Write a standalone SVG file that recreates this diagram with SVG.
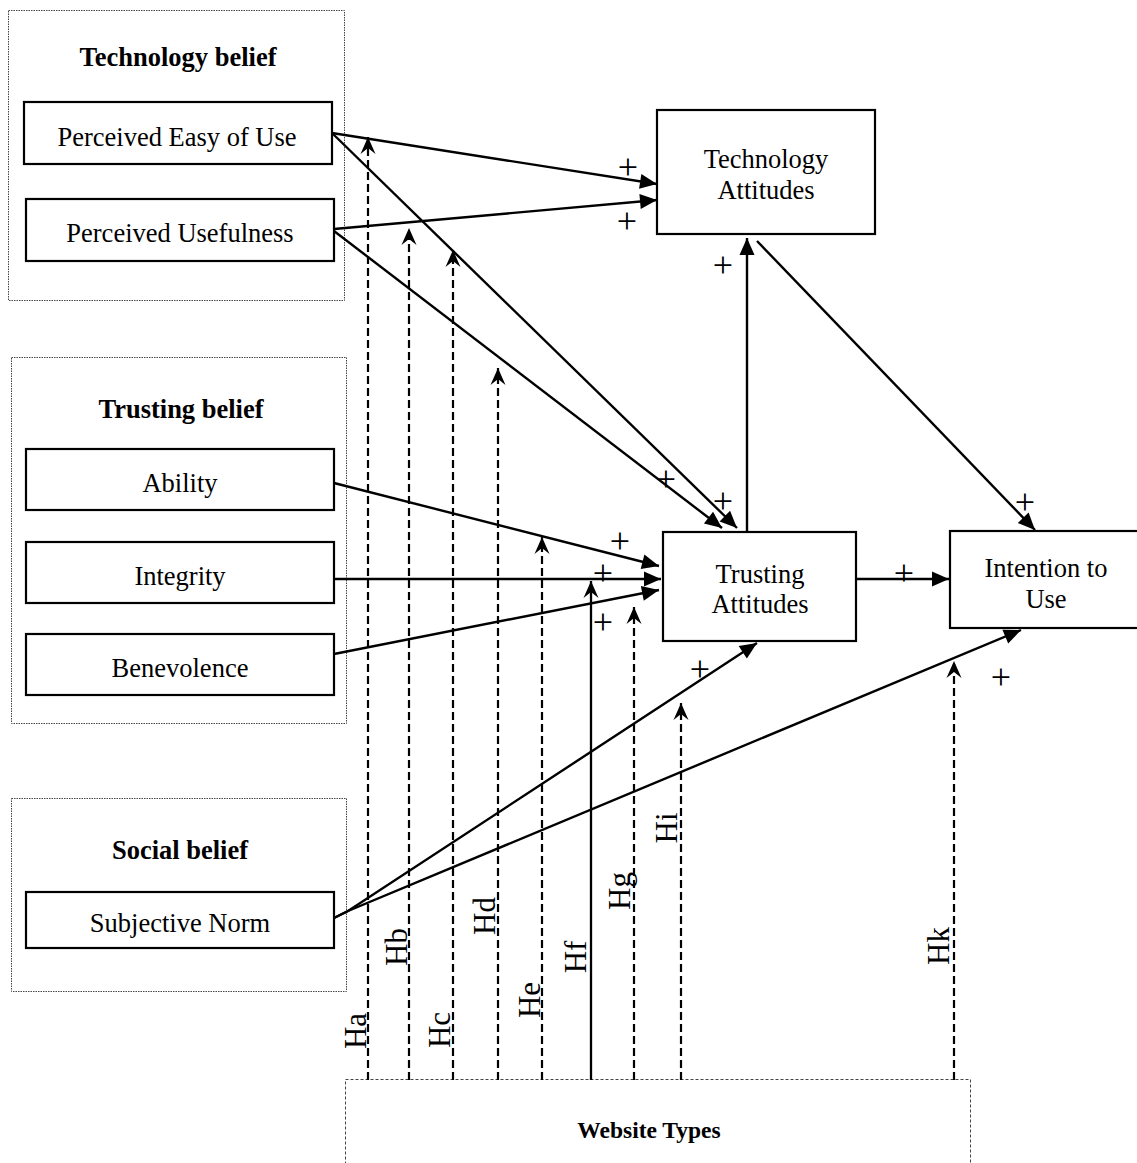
<svg xmlns="http://www.w3.org/2000/svg" width="1137" height="1163" viewBox="0 0 1137 1163">
<style>
text{font-family:"Liberation Serif","Times New Roman",serif;fill:#000}
.t{font-size:26.5px;text-anchor:middle}
.b{font-size:26.5px;font-weight:bold;text-anchor:middle}
.p{font-size:36px;text-anchor:middle}
.h{font-size:31px;text-anchor:middle}
.grp{fill:none;stroke:#444;stroke-width:1;stroke-dasharray:1.5,1}
.node{fill:#fff;stroke:#000;stroke-width:2.2}
.c{fill:none;stroke:#000;stroke-width:2.4;marker-end:url(#ah)}
.d{fill:none;stroke:#000;stroke-width:2.2;stroke-dasharray:8,4;marker-end:url(#ahd)}
</style>
<defs>
<marker id="ah" markerUnits="userSpaceOnUse" markerWidth="20" markerHeight="18" viewBox="-18 -9 20 18" refX="0" refY="0" orient="auto"><path d="M0,0 L-17,-7.5 L-17,7.5 Z" fill="#000"/></marker>
<marker id="ahd" markerUnits="userSpaceOnUse" markerWidth="19" markerHeight="18" viewBox="-18 -9 19 18" refX="0" refY="0" orient="auto"><path d="M0,0 L-17,-7.5 L-11,0 L-17,7.5 Z" fill="#000"/></marker>
</defs>
<rect width="1137" height="1163" fill="#fff"/>

<g id="tech-belief">
<rect class="grp" x="8.5" y="10.5" width="336" height="290"/>
<text class="b" x="178" y="66">Technology belief</text>
</g>
<g id="peou"><rect class="node" x="24" y="102" width="308" height="62"/><text class="t" x="177" y="146">Perceived Easy of Use</text></g>
<g id="pu"><rect class="node" x="26" y="199" width="308" height="62"/><text class="t" x="180" y="242">Perceived Usefulness</text></g>

<g id="trust-belief">
<rect class="grp" x="11.5" y="357.5" width="335" height="366"/>
<text class="b" x="181" y="418">Trusting belief</text>
</g>
<g id="ability"><rect class="node" x="26" y="449" width="308" height="61"/><text class="t" x="180" y="492">Ability</text></g>
<g id="integrity"><rect class="node" x="26" y="542" width="308" height="61"/><text class="t" x="180" y="585">Integrity</text></g>
<g id="benevolence"><rect class="node" x="26" y="634" width="308" height="61"/><text class="t" x="180" y="677">Benevolence</text></g>

<g id="social-belief">
<rect class="grp" x="11.5" y="798.5" width="335" height="193"/>
<text class="b" x="180" y="859">Social belief</text>
</g>
<g id="sn"><rect class="node" x="26" y="892" width="308" height="56"/><text class="t" x="180" y="932">Subjective Norm</text></g>

<g id="tech-att"><rect class="node" x="657" y="110" width="218" height="124"/><text class="t" x="766" y="168">Technology</text><text class="t" x="766" y="199">Attitudes</text></g>
<g id="trust-att"><rect class="node" x="663" y="532" width="193" height="109"/><text class="t" x="760" y="583">Trusting</text><text class="t" x="760" y="613">Attitudes</text></g>
<g id="intention"><rect class="node" x="950" y="531" width="195" height="97"/><text class="t" x="1046" y="577">Intention to</text><text class="t" x="1046" y="608">Use</text></g>

<g id="website-types">
<rect fill="none" stroke="#444" stroke-width="1" stroke-dasharray="3,2" x="345.5" y="1079.5" width="625" height="100"/>
<text font-size="23.5" font-weight="bold" text-anchor="middle" x="649" y="1138">Website Types</text>
</g>

<g id="connectors">
<path class="c" d="M332,133 L657,184"/>
<path class="c" d="M334,229 L657,200"/>
<path class="c" d="M332,133 L737,528"/>
<path class="c" d="M334,231 L722,528"/>
<path class="c" d="M747,532 L747,238"/>
<path class="c" d="M757,241 L1035,530"/>
<path class="c" d="M334,483 L659,566"/>
<path class="c" d="M334,579 L661,579"/>
<path class="c" d="M334,654 L659,590"/>
<path class="c" d="M856,579 L949,579"/>
<path class="c" d="M334,918 L348,911 L757,643"/>
<path class="c" d="M334,918 L348,911 L1021,630"/>
<path class="d" d="M368,1080 L368,137"/>
<path class="d" d="M409,1080 L409,228"/>
<path class="d" d="M453,1080 L453,250"/>
<path class="d" d="M498,1080 L498,368"/>
<path class="d" d="M542,1080 L542,537"/>
<path class="c" d="M591,1080 L591,581" style="stroke-width:2.3;marker-end:url(#ahd)"/>
<path class="d" d="M634,1080 L634,607"/>
<path class="d" d="M681,1080 L681,703"/>
<path class="d" d="M954,1080 L954,661"/>
</g>

<g id="signs">
<text class="p" x="628" y="179">+</text>
<text class="p" x="627" y="233">+</text>
<text class="p" x="723" y="277">+</text>
<text class="p" x="666" y="491">+</text>
<text class="p" x="723" y="513">+</text>
<text class="p" x="1025" y="514">+</text>
<text class="p" x="620" y="553">+</text>
<text class="p" x="603" y="585">+</text>
<text class="p" x="603" y="634">+</text>
<text class="p" x="904" y="585">+</text>
<text class="p" x="700" y="681">+</text>
<text class="p" x="1001" y="689">+</text>
</g>

<g id="labels">
<text class="h" transform="translate(366,1031) rotate(-90)">Ha</text>
<text class="h" transform="translate(407,947) rotate(-90)">Hb</text>
<text class="h" transform="translate(450,1030) rotate(-90)">Hc</text>
<text class="h" transform="translate(495,916) rotate(-90)">Hd</text>
<text class="h" transform="translate(540,1000) rotate(-90)">He</text>
<text class="h" transform="translate(586,957) rotate(-90)">Hf</text>
<text class="h" transform="translate(630,891) rotate(-90)">Hg</text>
<text class="h" transform="translate(677,828) rotate(-90)">Hi</text>
<text class="h" transform="translate(949,946) rotate(-90)">Hk</text>
</g>
</svg>
